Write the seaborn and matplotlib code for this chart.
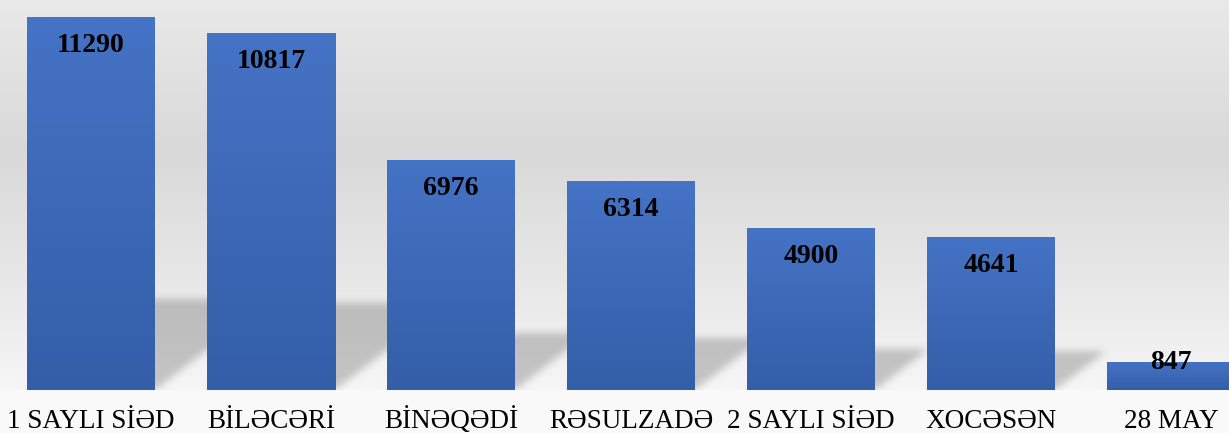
import numpy as np
import pandas as pd
import matplotlib
matplotlib.use("Agg")
import matplotlib.pyplot as plt
import seaborn as sns
from matplotlib.path import Path

# Data
categories = ["1 SAYLI SİƏD", "BİLƏCƏRİ", "BİNƏQƏDİ", "RƏSULZADƏ",
              "2 SAYLI SİƏD", "XOCƏSƏN", "28 MAY"]
values = [11290, 10817, 6976, 6314, 4900, 4641, 847]

W, H = 1229, 433
BASE = 43  # px from bottom to baseline

sns.set_style("white")
plt.rcParams["font.family"] = ["Liberation Serif", "DejaVu Serif"]

fig = plt.figure(figsize=(W / 100, H / 100), dpi=100)
bg_ax = fig.add_axes([0, 0, 1, 1])
bg_ax.axis("off")
ax = fig.add_axes([0, BASE / H, 1, 1 - BASE / H])
ax.patch.set_alpha(0)

df = pd.DataFrame({"name": categories, "value": values})
sns.barplot(data=df, x="name", y="value", color="#4472C4", saturation=1,
            width=128 / 180, linewidth=0, ax=ax)

xlim = (-91 / 180, (W - 91) / 180)
ylim = (0, 11805)
ax.set_xlim(*xlim)
ax.set_ylim(*ylim)

# gradient fill on bars
top_c = np.array([69, 115, 197]) / 255
bot_c = np.array([52, 94, 168]) / 255
for p in ax.patches:
    x0, y0 = p.get_x(), p.get_y()
    w, h = p.get_width(), p.get_height()
    t = np.linspace(1, 0, 64)[:, None]
    grad = (top_c * t[..., None] + bot_c * (1 - t[..., None])).reshape(64, 1, 3)
    im = ax.imshow(grad, extent=[x0, x0 + w, y0, y0 + h], aspect="auto",
                   zorder=p.get_zorder() + 0.1, interpolation="bilinear")
    im.set_clip_path(p)
ax.set_xlim(*xlim)
ax.set_ylim(*ylim)

# background gradient + soft perspective shadows
rows = np.arange(H)
base_row = H - BASE
bg = np.interp(rows, [0, 150, 300, base_row - 1], [233, 217, 234, 246])
bg[base_row:] = 249
img = np.repeat(bg[:, None], W, axis=1) / 255

yy, xx = np.mgrid[0:H, 0:W]
pts = np.column_stack([xx.ravel() + 0.5, yy.ravel() + 0.5])
mask = np.zeros(H * W)
for p in ax.patches:
    (l, b), (r, t) = ax.transData.transform([(p.get_x(), 0),
                                              (p.get_x() + p.get_width(), p.get_height())])
    hpx = t - b
    sh = 0.235 * hpx + 3
    dx = 1.3 * sh
    rb = H - b
    poly = Path([(l, rb), (r, rb), (r + dx, rb - sh), (l + dx, rb - sh)])
    mask = np.maximum(mask, poly.contains_points(pts))
mask = mask.reshape(H, W)


def box_blur(a, r, axis):
    c = np.cumsum(np.pad(a, [(r + 1, r) if ax_ == axis else (0, 0) for ax_ in range(2)],
                         mode="edge"), axis=axis)
    n = a.shape[axis]
    hi = np.take(c, np.arange(2 * r + 1, 2 * r + 1 + n), axis=axis)
    lo = np.take(c, np.arange(0, n), axis=axis)
    return (hi - lo) / (2 * r + 1)


for _ in range(2):
    mask = box_blur(mask, 4, 0)
    mask = box_blur(mask, 4, 1)
mask[base_row:, :] = 0
img = img * (1 - 0.2 * mask)
bg_ax.imshow(np.dstack([img] * 3), extent=[0, W, 0, H], aspect="auto",
             interpolation="nearest")
bg_ax.set_xlim(0, W)
bg_ax.set_ylim(0, H)

# value labels inside bar tops
off = 28.5 * (ylim[1] - ylim[0]) / (H - BASE)
for i, v in enumerate(values):
    ax.text(i, max(v - off, off * 0.95), f"{v}", ha="center", va="center",
            fontsize=20, fontweight="bold", color="black", zorder=10)

ax.set_xlabel("")
ax.set_ylabel("")
ax.set_yticks([])
ax.tick_params(axis="x", length=0, pad=27.5, labelsize=19.5, labelcolor="black")
for lab in ax.get_xticklabels():
    lab.set_verticalalignment("baseline")
sns.despine(ax=ax, left=True, bottom=True)

fig.savefig("out.png", dpi=100)
